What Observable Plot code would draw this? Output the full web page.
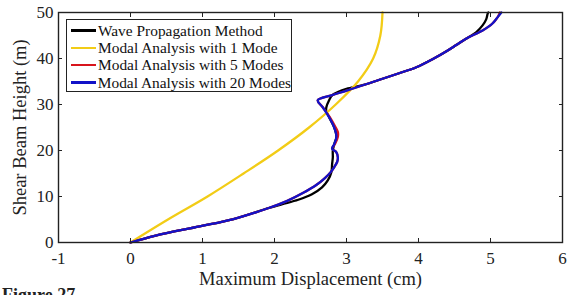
<!DOCTYPE html>
<html>
<head>
<meta charset="utf-8">
<script src="https://cdn.jsdelivr.net/npm/d3@7"></script>
<script src="https://cdn.jsdelivr.net/npm/@observablehq/plot@0.6"></script>
<style>
  html, body { margin: 0; padding: 0; background: white; }
  #wrap { position: relative; width: 568px; height: 295px; overflow: hidden; font-family: "Liberation Serif", "Times New Roman", serif; }
  #wrap svg text { font-family: "Liberation Serif", "Times New Roman", serif; }
  #legend { position: absolute; left: 66px; top: 19px; width: 226px; height: 73px; border: 1.5px solid #222; background: white; box-sizing: border-box; padding-top: 2px; }
  .row { display: flex; align-items: center; height: 17.3px; font-size: 15.4px; color: #111; white-space: nowrap; }
  .sw { width: 25px; height: 2.4px; margin-left: 4px; margin-right: 2px; }
  #caption { position: absolute; left: 2px; top: 286px; font-weight: bold; font-size: 18px; line-height: 18px; color: #222; white-space: nowrap; }
</style>
</head>
<body>
<div id="wrap"></div>
<script>
// ---- data (height in m, displacement in cm) ----
const xTicks = [-1, 0, 1, 2, 3, 4, 5, 6];
const yTicks = [0, 10, 20, 30, 40, 50];

const seriesNames = ["Wave Propagation Method", "Modal Analysis with 1 Mode", "Modal Analysis with 5 Modes", "Modal Analysis with 20 Modes"];
const seriesColors = ["#000000", "#F2CC16", "#D8141C", "#1212C8"];

const waveH = [0, 1.5, 3.5, 5.1, 7.5, 8.3, 9.3, 10.5, 12, 13.5, 15.3, 17, 18.5, 20, 21.4, 23, 25, 27.2, 28.5, 29.4, 31, 32, 32.7, 33.4, 34.3, 35.6, 36.8, 38.1, 39.9, 41.7, 43.0, 44.3, 45.7, 47.2, 48.5, 49.7, 50];
const waveX = [0, 0.35, 0.96, 1.43, 1.92, 2.10, 2.33, 2.52, 2.66, 2.74, 2.79, 2.80, 2.81, 2.81, 2.83, 2.86, 2.83, 2.76, 2.72, 2.72, 2.76, 2.80, 2.88, 3.00, 3.25, 3.50, 3.73, 3.97, 4.20, 4.40, 4.53, 4.66, 4.80, 4.89, 4.94, 4.96, 4.97];

const mode1H = [0, 5, 10, 15, 20, 25, 30, 35, 40, 45, 50];
const mode1X = [0, 0.52, 1.07, 1.57, 2.05, 2.48, 2.85, 3.16, 3.37, 3.47, 3.50];

const mode5H = [0, 1.5, 3.5, 5.1, 7.5, 9.0, 10.8, 12.5, 14, 15.3, 16.4, 17.5, 18.5, 19.6, 20.4, 21.4, 23, 24, 25, 27.2, 29.4, 30.9, 32.0, 33.0, 34.3, 35.6, 36.8, 38.1, 39.9, 41.7, 43.0, 44.3, 46.1, 47.5, 49, 50];
const mode5X = [0, 0.35, 0.96, 1.43, 1.92, 2.17, 2.40, 2.58, 2.70, 2.78, 2.83, 2.87, 2.88, 2.86, 2.80, 2.84, 2.88, 2.88, 2.85, 2.77, 2.67, 2.60, 2.79, 3.00, 3.25, 3.50, 3.73, 3.97, 4.20, 4.40, 4.53, 4.66, 4.89, 5.02, 5.10, 5.13];

const mode20H = [0, 1.5, 3.5, 5.1, 7.5, 9.0, 10.8, 12.5, 14, 15.3, 16.4, 17.5, 18.5, 19.6, 20.4, 21.4, 23, 25, 27.2, 29.4, 30.9, 32.0, 33.0, 34.3, 35.6, 36.8, 38.1, 39.9, 41.7, 43.0, 44.3, 46.1, 47.5, 49, 50];
const mode20X = [0, 0.35, 0.96, 1.43, 1.92, 2.17, 2.40, 2.58, 2.70, 2.78, 2.83, 2.87, 2.88, 2.86, 2.80, 2.83, 2.86, 2.83, 2.76, 2.67, 2.60, 2.79, 3.00, 3.25, 3.50, 3.73, 3.97, 4.20, 4.40, 4.53, 4.66, 4.89, 5.02, 5.10, 5.15];

const xLabel = "Maximum Displacement (cm)";
const yLabel = "Shear Beam Height (m)";
const captionText = "Figure 27.";

// ---- build ----
const toRows = (xs, hs) => xs.map((x, i) => ({x, h: hs[i]}));
const series = [toRows(waveX, waveH), toRows(mode1X, mode1H), toRows(mode5X, mode5H), toRows(mode20X, mode20H)];

const font = '"Liberation Serif", "Times New Roman", serif';
const chart = Plot.plot({
  width: 568,
  height: 295,
  marginTop: 12,
  marginBottom: 53,
  marginLeft: 58,
  marginRight: 6,
  x: {domain: [-1, 6]},
  y: {domain: [0, 50]},
  style: {fontFamily: font, fontSize: "17px", color: "#222", background: "white", overflow: "visible"},
  marks: [
    ...series.map((d, i) => Plot.line(d, {x: "x", y: "h", stroke: seriesColors[i], strokeWidth: 2.3, curve: "catmull-rom"})),
    Plot.frame({stroke: "#222", strokeWidth: 1.4}),
    Plot.axisX({ticks: xTicks, tickSize: -4, tickPadding: 13, label: null, tickFormat: d => String(d), fontSize: 17}),
    Plot.axisX({anchor: "top", ticks: xTicks, tickSize: -4, tickFormat: () => "", label: null}),
    Plot.axisY({ticks: yTicks, tickSize: -4, tickPadding: 9, label: null, fontSize: 17}),
    Plot.axisY({anchor: "right", ticks: yTicks, tickSize: -4, tickFormat: () => "", label: null}),
    Plot.text([xLabel], {frameAnchor: "bottom", dy: 29, lineAnchor: "top", fontSize: 18.5, fill: "#222"}),
    Plot.text([yLabel], {frameAnchor: "left", dx: -38, rotate: -90, textAnchor: "middle", fontSize: 18.5, fill: "#222"})
  ]
});

const wrap = document.getElementById("wrap");
wrap.appendChild(chart);

const legend = document.createElement("div");
legend.id = "legend";
seriesNames.forEach((name, i) => {
  const row = document.createElement("div");
  row.className = "row";
  const sw = document.createElement("span");
  sw.className = "sw";
  sw.style.background = seriesColors[i];
  const t = document.createElement("span");
  t.textContent = name;
  row.appendChild(sw);
  row.appendChild(t);
  legend.appendChild(row);
});
wrap.appendChild(legend);

const cap = document.createElement("div");
cap.id = "caption";
cap.textContent = captionText;
wrap.appendChild(cap);
</script>
</body>
</html>
